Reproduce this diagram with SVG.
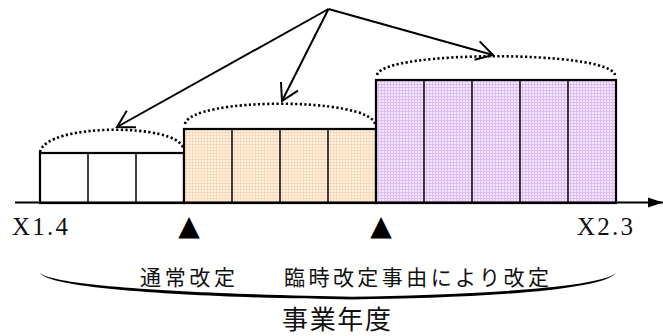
<svg xmlns="http://www.w3.org/2000/svg" width="663" height="336" viewBox="0 0 663 336">
<style>
.box{stroke:#000;stroke-width:2.2;}
.div{stroke:#111;stroke-width:1.6;}
.arc{fill:none;stroke:#000;stroke-width:2.6;stroke-dasharray:2.2 2.4;}
.arrow{fill:none;stroke:#000;stroke-width:2;marker-end:url(#open);}
.lbl{font-family:"Liberation Serif","DejaVu Serif",serif;font-size:25px;fill:#111;}
.jp{font-family:"Noto Sans CJK JP",sans-serif;fill:#111;}
.tri{font-family:"DejaVu Sans",sans-serif;font-size:28px;fill:#000;}
</style>
<defs>
<pattern id="orange" width="3" height="3" patternUnits="userSpaceOnUse">
<rect width="3" height="3" fill="#FFF4E8"/>
<path d="M0,0.5H3M0.5,0V3" stroke="#FCD8B4" stroke-width="1"/>
</pattern>
<pattern id="purple" width="3" height="3" patternUnits="userSpaceOnUse">
<rect width="3" height="3" fill="#F4E8FF"/>
<path d="M0,0.5H3M0.5,0V3" stroke="#DCBDF6" stroke-width="1"/>
</pattern>
<marker id="open" markerUnits="userSpaceOnUse" markerWidth="24" markerHeight="24" viewBox="-20 -12 24 24" refX="0" refY="0" orient="auto">
<path d="M-16.5,-9.5 L0,0 L-16.5,9.5" fill="none" stroke="#000" stroke-width="2"/>
</marker>
<marker id="solid" markerUnits="userSpaceOnUse" markerWidth="16" markerHeight="12" viewBox="-15 -6 16 12" refX="0" refY="0" orient="auto">
<path d="M-15,-5 L0,0 L-15,5 Z" fill="#000"/>
</marker>
</defs>

<g id="period1">
<rect x="40" y="153" width="144" height="50" fill="#fff" class="box"/>
<path d="M88,153V203M136,153V203" class="div" stroke="#444"/>
<path d="M40,152 C46,123 177,123 183,148" class="arc"/>
</g>

<g id="period2">
<rect x="184" y="129" width="192" height="74" fill="url(#orange)" class="box"/>
<path d="M232,129V203M280,129V203M328,129V203" class="div"/>
<path d="M185,124 C191,97 369,97 375,124" class="arc"/>
</g>

<g id="period3">
<rect x="376" y="80" width="240" height="123" fill="url(#purple)" class="box" stroke-width="2.6"/>
<path d="M424,80V203M472,80V203M520,80V203M568,80V203" class="div"/>
<path d="M377,75 C383,50 609,50 615,75" class="arc"/>
</g>

<g id="connectors">
<line x1="15" y1="202.5" x2="663" y2="202.5" stroke="#000" stroke-width="2" marker-end="url(#solid)"/>
<line x1="328.5" y1="9" x2="117" y2="127" class="arrow"/>
<line x1="328.5" y1="9" x2="282" y2="101" class="arrow"/>
<line x1="328.5" y1="9" x2="493" y2="55" class="arrow"/>
</g>

<g id="labels">
<text x="12" y="235" class="lbl" textLength="56" lengthAdjust="spacing">X1.4</text>
<text x="577" y="235" class="lbl" textLength="56" lengthAdjust="spacing">X2.3</text>
<text x="189" y="235" class="tri" text-anchor="middle">▲</text>
<text x="381" y="235" class="tri" text-anchor="middle">▲</text>
<text x="140" y="285" class="jp" font-size="21" textLength="95" lengthAdjust="spacing">通常改定</text>
<text x="284" y="285" class="jp" font-size="21" textLength="265" lengthAdjust="spacing">臨時改定事由により改定</text>
<text x="282" y="329" class="jp" font-size="26" textLength="109" lengthAdjust="spacing">事業年度</text>
</g>

<g id="brace">
<path d="M40,273 C58,289 250,295 352,296.8 C455,295 598,289 616,273 C602,292 455,298.6 352,299.4 C250,298.6 52,292 40,273 Z" fill="#000"/>
</g>
</svg>
